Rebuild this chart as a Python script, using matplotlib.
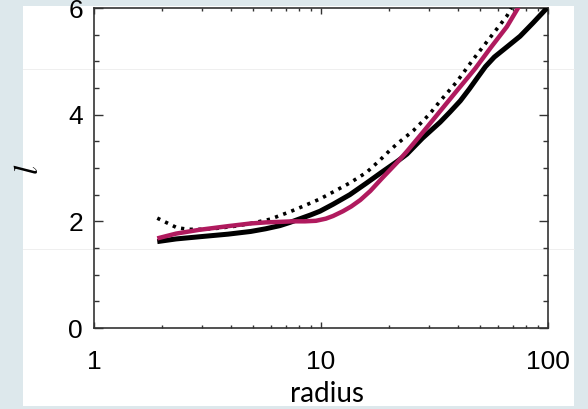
import matplotlib
matplotlib.use("Agg")
import matplotlib.pyplot as plt
from matplotlib.patches import Rectangle
from matplotlib.lines import Line2D
from matplotlib.ticker import LogLocator, MultipleLocator, FixedLocator, NullFormatter

# solid black curve
r_solid = [1.9, 2.3, 2.9, 3.9, 4.9, 5.7, 6.6, 7.3, 8.1, 9.0, 9.9, 11.3, 13.4, 15.9, 18.5,
           21.6, 23.9, 28.0, 33.5, 37.0, 41.1, 45.0, 49.0, 53.0, 58.0, 65.9, 75.3, 85.9, 99.0]
l_solid = [1.62, 1.67, 1.71, 1.76, 1.81, 1.86, 1.92, 1.98, 2.05, 2.12, 2.19, 2.32, 2.50, 2.72, 2.92,
           3.12, 3.26, 3.56, 3.86, 4.05, 4.26, 4.48, 4.70, 4.90, 5.08, 5.27, 5.47, 5.72, 6.00]

# dotted black curve
r_dot = [1.9, 2.1, 2.32, 2.6, 3.0, 3.5, 4.2, 4.9, 5.97, 6.6, 7.3, 8.1, 9.9, 11.3, 13.4,
         15.9, 18.0, 20.1, 21.6, 25.5, 28.1, 30.2, 33.4, 39.7, 46.7, 55.0, 65.9, 69.0]
l_dot = [2.06, 1.97, 1.88, 1.85, 1.85, 1.87, 1.91, 1.96, 2.04, 2.11, 2.18, 2.26, 2.42, 2.55, 2.72,
         2.92, 3.13, 3.33, 3.45, 3.70, 3.88, 4.02, 4.25, 4.62, 5.03, 5.42, 5.85, 6.00]

# magenta curve
r_mag = [1.9, 2.3, 2.9, 3.9, 4.9, 5.7, 6.6, 7.5, 8.5, 9.5, 10.5, 11.3, 12.5, 13.6, 14.9,
         16.5, 18.5, 21.6, 24.0, 28.1, 33.4, 39.7, 47.7, 56.0, 65.9, 75.0]
l_mag = [1.68, 1.77, 1.84, 1.91, 1.96, 1.98, 1.99, 2.00, 2.00, 2.01, 2.05, 2.10, 2.19, 2.28, 2.40,
         2.57, 2.80, 3.10, 3.32, 3.67, 4.06, 4.45, 4.86, 5.26, 5.65, 6.05]

W, H = 588, 409
fig = plt.figure(figsize=(W / 100, H / 100), dpi=100, facecolor="#dde8ec")
fig.patches.append(Rectangle((23 / W, 3 / H), 551 / W, 400 / H, transform=fig.transFigure,
                             facecolor="white", edgecolor="none", zorder=-2))
for yy in (69, 249):
    fig.lines.append(Line2D([23 / W, 574 / W], [1 - yy / H, 1 - yy / H], transform=fig.transFigure,
                            color="#ececec", lw=0.6, zorder=-1))

ax = fig.add_axes([94 / W, 81 / H, 454 / W, 320 / H])
ax.set_facecolor("none")

ax.plot(r_solid, l_solid, color="black", lw=3.6, solid_joinstyle="round", solid_capstyle="butt", zorder=3)
ax.plot(r_dot, l_dot, color="black", lw=2.6, linestyle=(0, (0.9, 1.5)), zorder=3)
ax.plot(r_mag, l_mag, color="#b01a5e", lw=3.2, solid_joinstyle="round", solid_capstyle="butt", zorder=4)

ax.set_xscale("log")
ax.set_xlim(1, 100)
ax.set_ylim(0, 6)

ax.xaxis.set_major_locator(FixedLocator([1, 10, 100]))
ax.xaxis.set_minor_locator(LogLocator(base=10, subs=range(2, 10)))
ax.xaxis.set_minor_formatter(NullFormatter())
ax.set_xticklabels(["1", "10", "100"])
ax.yaxis.set_major_locator(MultipleLocator(2))
ax.yaxis.set_minor_locator(MultipleLocator(0.5))

ax.tick_params(axis="both", which="both", direction="in", top=True, right=True, color="#333333", width=1)
ax.tick_params(axis="x", which="major", length=4.5, pad=16, labelsize=19)
ax.tick_params(axis="x", which="minor", length=2.2)
ax.tick_params(axis="y", which="major", length=6.5, pad=8, labelsize=19)
ax.tick_params(axis="y", which="minor", length=3.5)
for lab in ax.get_xticklabels() + ax.get_yticklabels():
    lab.set_fontfamily("Liberation Sans")
for sp in ax.spines.values():
    sp.set_linewidth(1.2)
    sp.set_color("#333333")

ax.set_xlabel("radius", fontsize=20, family="Lato")
ax.xaxis.set_label_coords(0.513, -0.165)
ax.set_ylabel("l", fontsize=24, family="STIXGeneral", style="italic")
ax.yaxis.set_label_coords(-0.11, 0.5)

fig.savefig("out.png", dpi=100, facecolor=fig.get_facecolor())
